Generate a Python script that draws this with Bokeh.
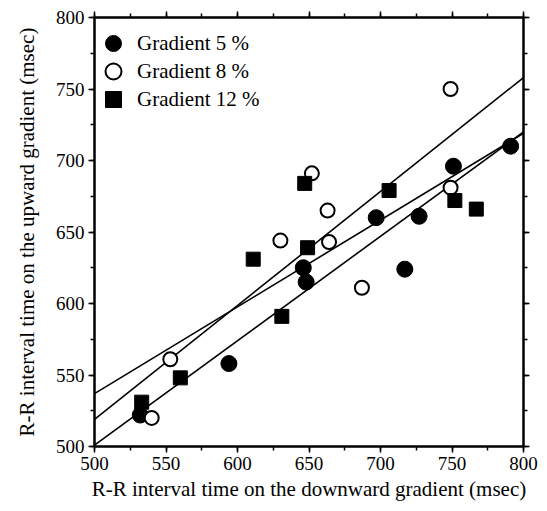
from bokeh.plotting import figure
from bokeh.models import LinearAxis, SingleIntervalTicker, Range1d, Legend, LegendItem, CustomJSTickFormatter
from bokeh.embed import file_html
from bokeh.resources import INLINE

# Gradient 5 % (filled circles)
g5_x = [532, 594, 646, 648, 697, 727, 717, 751, 791]
g5_y = [522, 558, 625, 615, 660, 661, 624, 696, 710]
# Gradient 8 % (open circles)
g8_x = [540, 553, 630, 652, 663, 664, 687, 749, 749]
g8_y = [520, 561, 644, 691, 665, 643, 611, 750, 681]
# Gradient 12 % (filled squares)
g12_x = [533, 560, 611, 631, 647, 649, 706, 752, 767]
g12_y = [531, 548, 631, 591, 684, 639, 679, 672, 666]

# regression lines: value at x=500 and x=800
line_x = [500, 800]
line_start = [519, 537, 501]
line_end = [758, 719, 720]

labels = ["Gradient 5 %", "Gradient 8 %", "Gradient 12 %"]

FONT = "Liberation Serif"

p = figure(width=539, height=503, output_backend="svg", toolbar_location=None,
           x_range=Range1d(500, 800), y_range=Range1d(500, 800),
           min_border_left=94, min_border_right=16, min_border_top=17, min_border_bottom=56,
           x_axis_label="R-R interval time on the downward gradient (msec)",
           y_axis_label="R-R interval time on the upward gradient (msec)")
p.xgrid.grid_line_color = None
p.ygrid.grid_line_color = None
p.outline_line_color = "black"
p.outline_line_width = 2
p.background_fill_color = "white"
p.border_fill_color = "white"

bottom = p.below[0]
left = p.left[0]
top = LinearAxis()
right = LinearAxis()
p.add_layout(top, "above")
p.add_layout(right, "right")

for ax in [bottom, left, top, right]:
    ax.ticker = SingleIntervalTicker(interval=50, num_minor_ticks=2)
    ax.axis_line_width = 2
    ax.axis_line_color = "black"
    ax.major_tick_in = 0
    ax.major_tick_out = 6
    ax.minor_tick_in = 0
    ax.minor_tick_out = 4
    ax.major_tick_line_width = 1.5
    ax.minor_tick_line_width = 1.5
    ax.major_label_text_font = FONT
    ax.major_label_text_font_size = "19px"
    ax.major_label_text_color = "black"
    ax.axis_label_text_font = FONT
    ax.axis_label_text_font_size = "21px"
    ax.axis_label_text_font_style = "normal"
    ax.axis_label_text_color = "black"

for ax in [top, right]:
    ax.formatter = CustomJSTickFormatter(code="return ''")
    ax.major_label_text_font_size = "0px"
    ax.major_label_standoff = 0

bottom.major_label_standoff = 4
left.major_label_standoff = 4
bottom.axis_label_standoff = 4
left.axis_label_standoff = 14

for a, b in zip(line_start, line_end):
    p.line(line_x, [a, b], line_color="black", line_width=1.6)

r5 = p.scatter(g5_x, g5_y, marker="circle", size=16, fill_color="black", line_color="black")
r8 = p.scatter(g8_x, g8_y, marker="circle", size=14, fill_color="white", line_color="black", line_width=2)
r12 = p.scatter(g12_x, g12_y, marker="square", size=14, fill_color="black", line_color="black")

row_offsets = [383, 355, 327]
for lab, rend, yoff in zip(labels, [r5, r8, r12], row_offsets):
    lg = Legend(items=[LegendItem(label=lab, renderers=[rend])],
                location=(-1, yoff), glyph_width=40, glyph_height=40,
                label_standoff=4, padding=0, margin=0,
                border_line_color=None, background_fill_alpha=0,
                label_text_font=FONT, label_text_font_size="21px", label_text_color="black")
    p.add_layout(lg, "center")

open("out.html", "w").write(file_html(p, INLINE))
